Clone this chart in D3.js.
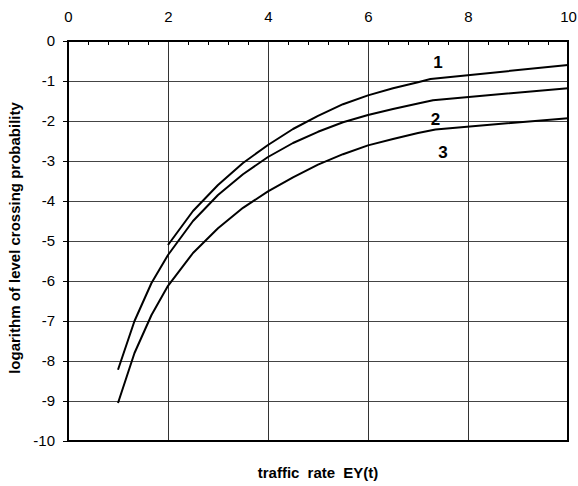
<!DOCTYPE html>
<html>
<head>
<meta charset="utf-8">
<script src="https://cdn.jsdelivr.net/npm/d3@7"></script>
<style>
  body { margin: 0; background: #fff; }
  svg { display: block; font-family: "Liberation Sans", Arial, sans-serif; }
</style>
</head>
<body>
<svg id="chart" width="578" height="486"></svg>
<script>
// ---- data ----
const xTicks = [0, 2, 4, 6, 8, 10];
const yTicks = [0, -1, -2, -3, -4, -5, -6, -7, -8, -9, -10];
const curveNames = ["1", "2", "3"];
const curve1X = [2, 2.5, 3, 3.5, 4, 4.5, 5, 5.5, 6, 6.5, 7, 7.25, 10];
const curve1Y = [-5.1, -4.25, -3.6, -3.05, -2.6, -2.2, -1.87, -1.58, -1.36, -1.18, -1.03, -0.95, -0.6];
const curve2X = [1, 1.33, 1.67, 2, 2.5, 3, 3.5, 4, 4.5, 5, 5.5, 6, 6.5, 7, 7.3, 10];
const curve2Y = [-8.22, -7.0, -6.05, -5.35, -4.5, -3.85, -3.33, -2.9, -2.55, -2.27, -2.03, -1.85, -1.7, -1.56, -1.48, -1.18];
const curve3X = [1, 1.33, 1.67, 2, 2.5, 3, 3.5, 4, 4.5, 5, 5.5, 6, 6.5, 7, 7.35, 10];
const curve3Y = [-9.05, -7.8, -6.85, -6.12, -5.3, -4.68, -4.17, -3.76, -3.41, -3.09, -2.83, -2.61, -2.45, -2.3, -2.21, -1.93];
const labelPos = [[7.4, -0.68], [7.35, -2.1], [7.5, -2.92]];

const svg = d3.select("#chart");
const x = d3.scaleLinear().domain([0, 10]).range([68, 568]);
const y = d3.scaleLinear().domain([0, -10]).range([41, 441]);

// grid
svg.append("g").selectAll("line.h").data(yTicks.filter(d => d !== 0 && d !== -10))
  .join("line").attr("x1", x(0)).attr("x2", x(10))
  .attr("y1", d => y(d)).attr("y2", d => y(d))
  .attr("stroke", "#444").attr("stroke-width", 1).attr("shape-rendering", "crispEdges");
svg.append("g").selectAll("line.v").data(xTicks.filter(d => d !== 0 && d !== 10))
  .join("line").attr("y1", y(0)).attr("y2", y(-10))
  .attr("x1", d => x(d)).attr("x2", d => x(d))
  .attr("stroke", "#333").attr("stroke-width", 1).attr("shape-rendering", "crispEdges");

// top axis
const topAxis = d3.axisTop(x).tickValues(xTicks).tickSize(0).tickPadding(19).tickFormat(d => String(d));
const gTop = svg.append("g").attr("transform", `translate(0,${y(0)})`).call(topAxis);
gTop.select(".domain").remove();
gTop.selectAll("text").attr("font-size", 15).attr("fill", "#000");
// minor ticks (inward)
const minor = d3.range(0, 10.001, 0.4).filter(v => Math.abs(v / 2 - Math.round(v / 2)) > 1e-6);
svg.append("g").selectAll("line").data(minor).join("line")
  .attr("x1", d => x(d)).attr("x2", d => x(d))
  .attr("y1", y(0)).attr("y2", y(0) + 4)
  .attr("stroke", "#000").attr("stroke-width", 1).attr("shape-rendering", "crispEdges");

// left axis
const leftAxis = d3.axisLeft(y).tickValues(yTicks).tickSize(5).tickPadding(8).tickFormat(d => String(d));
const gLeft = svg.append("g").attr("transform", `translate(${x(0)},0)`).call(leftAxis);
gLeft.select(".domain").remove();
gLeft.selectAll("line").attr("stroke", "#000").attr("shape-rendering", "crispEdges");
gLeft.selectAll("text").attr("font-size", 15).attr("fill", "#000");

// frame
svg.append("rect").attr("x", x(0)).attr("y", y(0))
  .attr("width", x(10) - x(0)).attr("height", y(-10) - y(0))
  .attr("fill", "none").attr("stroke", "#000").attr("stroke-width", 2);

// curves
const line = d3.line().x(d => x(d[0])).y(d => y(d[1]));
const curves = [d3.zip(curve1X, curve1Y), d3.zip(curve2X, curve2Y), d3.zip(curve3X, curve3Y)];
svg.append("g").selectAll("path").data(curves).join("path")
  .attr("d", line).attr("fill", "none").attr("stroke", "#000").attr("stroke-width", 2)
  .attr("stroke-linejoin", "round");

// curve labels
svg.append("g").selectAll("text").data(curveNames).join("text")
  .attr("x", (d, i) => x(labelPos[i][0])).attr("y", (d, i) => y(labelPos[i][1]))
  .attr("text-anchor", "middle").attr("font-size", 17).attr("font-weight", "bold")
  .text(d => d);

// titles
svg.append("text").attr("x", (x(0) + x(10)) / 2).attr("y", 478)
  .attr("text-anchor", "middle").attr("font-size", 15).attr("font-weight", "bold")
  .attr("word-spacing", 4)
  .text("traffic rate EY(t)");
svg.append("text").attr("transform", `translate(20,238) rotate(-90)`)
  .attr("text-anchor", "middle").attr("font-size", 15).attr("font-weight", "bold")
  .text("logarithm of level crossing probability");
</script>
</body>
</html>
